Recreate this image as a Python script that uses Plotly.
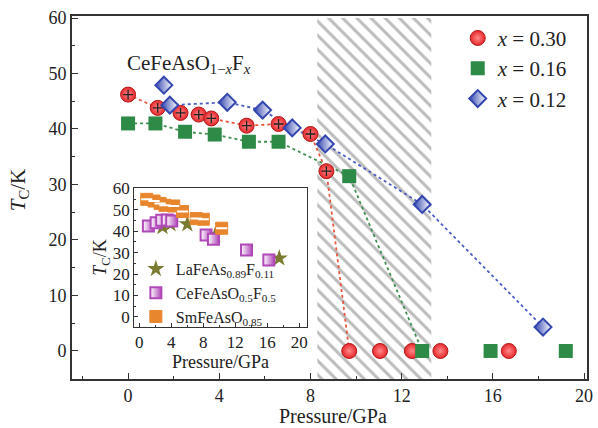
import plotly.graph_objects as go

# ---- main data: CeFeAsO1-xFx ----
red_x = [0.0, 1.3, 2.3, 3.1, 3.65, 5.2, 6.6, 8.0, 8.7, 9.7, 11.05, 12.45, 13.7, 16.7]
red_T = [46.2, 43.8, 42.9, 42.6, 41.9, 40.6, 40.9, 39.1, 32.4, 0, 0, 0, 0, 0]

green_x = [0.0, 1.2, 2.5, 3.8, 5.3, 6.6, 9.7, 12.9, 15.9, 19.2]
green_T = [41.0, 41.0, 39.5, 39.0, 37.7, 37.7, 31.5, 0, 0, 0]

blue_x = [1.57, 1.83, 4.35, 5.9, 7.2, 8.65, 12.9, 18.2]
blue_T = [47.9, 44.3, 44.8, 43.4, 40.2, 37.3, 26.4, 4.3]

hatch_start, hatch_end = 8.3, 13.3

# ---- inset data ----
la_x = [2.9, 3.9, 6.0, 9.5, 17.5]
la_T = [42.0, 43.3, 43.3, 38.3, 27.4]

ce_x = [1.13, 2.1, 2.8, 3.5, 4.05, 8.35, 9.27, 13.4, 16.2]
ce_T = [42.5, 44.0, 45.1, 45.3, 44.8, 38.3, 36.3, 31.2, 26.6]

sm_x = [0.92, 1.84, 2.6, 3.2, 4.3, 5.4, 7.1, 8.0, 10.3]
sm_T = [54.9, 54.1, 53.0, 52.1, 51.8, 49.2, 45.9, 45.6, 41.4]

main_ticks = [0, 4, 8, 12, 16, 20]
main_yticks = [0, 10, 20, 30, 40, 50, 60]

FONT = "Liberation Serif"
RED, GREEN, BLUE = "#e8262b", "#2e8b47", "#3446b0"
ORANGE, PURPLE, OLIVE = "#e8862e", "#b048b8", "#7a7a30"

fig = go.Figure()

# hatched pressure region
fig.add_trace(go.Bar(
    x=[(hatch_start + hatch_end) / 2], y=[70], base=[-10],
    width=[hatch_end - hatch_start],
    marker=dict(color="white", line=dict(width=0),
                pattern=dict(shape="\\", fgcolor="#7a7a7a", bgcolor="white",
                             size=10, solidity=0.3)),
    showlegend=False, hoverinfo="skip", xaxis="x", yaxis="y"))

# dotted connecting lines
fig.add_trace(go.Scatter(x=red_x[:10], y=red_T[:10], mode="lines",
                         line=dict(color="#e8553f", width=1.8, dash="dot"),
                         showlegend=False, hoverinfo="skip"))
fig.add_trace(go.Scatter(x=green_x[:8], y=green_T[:8], mode="lines",
                         line=dict(color="#3f9050", width=1.8, dash="dot"),
                         showlegend=False, hoverinfo="skip"))
fig.add_trace(go.Scatter(x=blue_x[1:], y=blue_T[1:], mode="lines",
                         line=dict(color="#4b5cc4", width=1.8, dash="dot"),
                         showlegend=False, hoverinfo="skip"))

# markers
fig.add_trace(go.Scatter(x=red_x, y=red_T, mode="markers", name="<i>x</i> = 0.30",
                         marker=dict(symbol="circle", size=15, color=RED,
                                     gradient=dict(type="radial", color="#ff8a8a"),
                                     line=dict(color="#b01818", width=1)),
                         legend="legend"))
fig.add_trace(go.Scatter(x=red_x[:9], y=red_T[:9], mode="markers",
                         marker=dict(symbol="cross-thin", size=7,
                                     line=dict(color="#222", width=1.3)),
                         showlegend=False, hoverinfo="skip"))
fig.add_trace(go.Scatter(x=green_x, y=green_T, mode="markers", name="<i>x</i> = 0.16",
                         marker=dict(symbol="square", size=14, color=GREEN,
                                     line=dict(color=GREEN, width=0)),
                         legend="legend"))
fig.add_trace(go.Scatter(x=blue_x, y=blue_T, mode="markers", name="<i>x</i> = 0.12",
                         marker=dict(symbol="diamond", size=13, color=BLUE,
                                     gradient=dict(type="horizontal", color="white"),
                                     line=dict(color=BLUE, width=2)),
                         legend="legend"))

# inset traces
fig.add_trace(go.Scatter(x=la_x, y=la_T, mode="markers", name="LaFeAs<sub>0.89</sub>F<sub>0.11</sub>",
                         marker=dict(symbol="star", size=13, color=OLIVE,
                                     line=dict(width=0)),
                         xaxis="x2", yaxis="y2", legend="legend2"))
fig.add_trace(go.Scatter(x=ce_x, y=ce_T, mode="markers", name="CeFeAsO<sub>0.5</sub>F<sub>0.5</sub>",
                         marker=dict(symbol="square", size=11, color="white",
                                     gradient=dict(type="horizontal", color=PURPLE),
                                     line=dict(color=PURPLE, width=2)),
                         xaxis="x2", yaxis="y2", legend="legend2"))
fig.add_trace(go.Scatter(x=sm_x, y=sm_T, mode="markers", name="SmFeAsO<sub>0.85</sub>",
                         marker=dict(symbol="square", size=12, color=ORANGE,
                                     line=dict(color=ORANGE, width=1)),
                         xaxis="x2", yaxis="y2", legend="legend2"))
fig.add_trace(go.Scatter(x=sm_x, y=sm_T, mode="markers",
                         marker=dict(symbol="line-ew", size=8,
                                     line=dict(color="white", width=2)),
                         xaxis="x2", yaxis="y2", showlegend=False, hoverinfo="skip"))

axis_common = dict(showgrid=False, zeroline=False, showline=True, linecolor="#333",
                   mirror=True, ticks="inside", tickcolor="#333", automargin=False,
                   tickfont=dict(family=FONT, size=18, color="#222"))

fig.update_layout(
    width=598, height=428,
    margin=dict(l=72, r=11, t=16, b=49),
    paper_bgcolor="white", plot_bgcolor="white",
    font=dict(family=FONT, color="#222"),
    showlegend=True,
    xaxis=dict(axis_common, domain=[0, 1], range=[-2.46, 20.13], tickvals=main_ticks,
               linewidth=1.6, ticklen=6,
               minor=dict(dtick=2, ticks="inside", ticklen=3, tickcolor="#333")),
    yaxis=dict(axis_common, domain=[0, 1], range=[-5.05, 60.36], tickvals=main_yticks,
               linewidth=1.6, ticklen=6,
               minor=dict(dtick=5, ticks="inside", ticklen=3, tickcolor="#333")),
    xaxis2=dict(axis_common, domain=[0.121, 0.456], anchor="y2", range=[-0.63, 20.95],
                tickvals=main_ticks, linewidth=1.3, ticklen=4,
                minor=dict(dtick=2, ticks="inside", ticklen=2, tickcolor="#333"),
                tickfont=dict(family=FONT, size=17, color="#222"),
                title=dict(text="Pressure/GPa", font=dict(family=FONT, size=18), standoff=0)),
    yaxis2=dict(axis_common, domain=[0.144, 0.525], anchor="x2", range=[-4.6, 60],
                tickvals=main_yticks, linewidth=1.3, ticklen=4,
                minor=dict(dtick=5, ticks="inside", ticklen=2, tickcolor="#333"),
                tickfont=dict(family=FONT, size=17, color="#222"),
                title=dict(text="<i>T</i><sub>C</sub>/K", font=dict(family=FONT, size=18), standoff=0)),
    legend=dict(x=0.749, y=0.995, xanchor="left", yanchor="top",
                bgcolor="rgba(0,0,0,0)", font=dict(family=FONT, size=21),
                itemsizing="trace", tracegroupgap=0),
    legend2=dict(x=0.124, y=0.35, xanchor="left", yanchor="top",
                 bgcolor="rgba(0,0,0,0)", font=dict(family=FONT, size=16),
                 itemsizing="trace", tracegroupgap=0, itemwidth=30),
    annotations=[
        dict(text="CeFeAsO<sub>1−<i>x</i></sub>F<sub><i>x</i></sub>",
             x=0.103, y=0.868, xref="paper", yref="paper",
             xanchor="left", yanchor="middle", showarrow=False,
             font=dict(family=FONT, size=21, color="#222")),
        dict(text="Pressure/GPa", x=0.507, y=-0.103, xref="paper", yref="paper",
             xanchor="center", yanchor="middle", showarrow=False,
             font=dict(family=FONT, size=20, color="#222")),
        dict(text="<i>T</i><sub>C</sub>/K", x=-0.103, y=0.52, xref="paper", yref="paper",
             xanchor="center", yanchor="middle", showarrow=False, textangle=-90,
             font=dict(family=FONT, size=21, color="#222")),
    ],
)

fig.write_html("out.html")
